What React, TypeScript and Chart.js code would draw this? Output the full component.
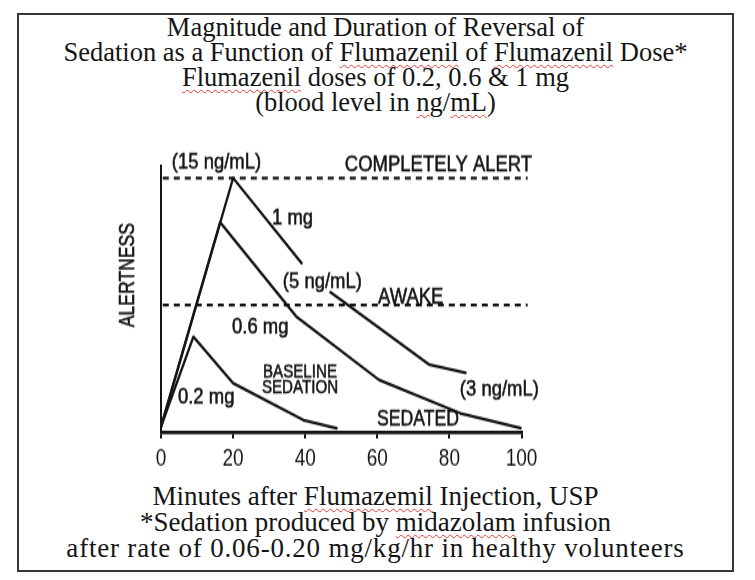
import React, { useEffect, useRef } from "react";
import { Chart, registerables } from "chart.js";

Chart.register(...registerables);

// ---- data ----
const doseNames = ["1 mg", "0.6 mg", "0.2 mg"];
const minutes1mg = [0, 20, 39, 43, 47, 74.5, 84.5];
const alertness1mg = [2, 100, 66.5, null, 55, 26.5, 23.3];
const minutes06mg = [0, 16.4, 37.5, 60.5, 83, 100];
const alertness06mg = [2, 82.6, 45.5, 20.5, 7.4, 1.5];
const minutes02mg = [0, 9, 20, 39.5, 48.7];
const alertness02mg = [2, 37.5, 19.2, 4.7, 1.5];

const levelNames = ["COMPLETELY ALERT", "AWAKE"];
const levelValues = [100, 50];
const levelStart = [0.5, 0.5];
const levelEnd = [101.7, 101.7];

const xTickValues = [0, 20, 40, 60, 80, 100];
const yAxisTitle = "ALERTNESS";

// annotation texts placed in data coordinates (x = left edge, y = middle)
const noteTexts = ["(15 ng/mL)", "COMPLETELY ALERT", "1 mg", "(5 ng/mL)", "AWAKE", "0.6 mg", "BASELINE", "SEDATION", "0.2 mg", "(3 ng/mL)", "SEDATED"];
const noteX = [3.0, 51.0, 30.8, 33.8, 60.2, 19.7, 28.3, 28.0, 4.7, 82.9, 59.9];
const noteY = [106.3, 105.1, 84.3, 59.1, 53.0, 41.3, 23.6, 17.3, 13.8, 16.5, 4.7];
const noteSize = [22, 22, 22, 22, 22, 22, 18, 18, 22, 22, 21];

const ink = "#151515";
const condense = 0.84;
// the printed figure is vertically stretched: canvas is drawn shorter and displayed taller
const CSS_W = 460;
const CSS_H = 340;
const CANVAS_H = 262;
const stretch = CSS_H / CANVAS_H;

const toPoints = (xs: number[], ys: (number | null)[]) => xs.map((x, i) => ({ x, y: ys[i] }));

const notesPlugin = {
  id: "notes",
  afterDraw(chart: any) {
    const { ctx } = chart;
    const xs = chart.scales.x;
    const ys = chart.scales.y;
    ctx.save();
    ctx.fillStyle = ink;
    ctx.strokeStyle = ink;
    ctx.textBaseline = "middle";
    noteTexts.forEach((t, i) => {
      ctx.save();
      ctx.translate(xs.getPixelForValue(noteX[i]), ys.getPixelForValue(noteY[i]));
      ctx.scale(condense, 1 / stretch);
      ctx.font = `${noteSize[i]}px "Liberation Sans", Arial, sans-serif`;
      ctx.textAlign = "left";
      ctx.lineWidth = 0.6;
      ctx.fillText(t, 0, 0);
      ctx.strokeText(t, 0, 0);
      ctx.restore();
    });
    // y axis title, rotated
    ctx.save();
    ctx.translate(xs.getPixelForValue(-9.3), ys.getPixelForValue(61.8));
    ctx.scale(1, 1 / stretch);
    ctx.rotate(-Math.PI / 2);
    ctx.scale(0.8, 1);
    ctx.font = `22px "Liberation Sans", Arial, sans-serif`;
    ctx.textAlign = "center";
    ctx.lineWidth = 0.6;
    ctx.fillText(yAxisTitle, 0, 0);
    ctx.strokeText(yAxisTitle, 0, 0);
    ctx.restore();
    ctx.restore();
  },
};

function Wavy({ children }: { children: React.ReactNode }) {
  return (
    <span
      style={{
        textDecorationLine: "underline",
        textDecorationStyle: "wavy",
        textDecorationColor: "#e03c3c",
        textDecorationThickness: "1px",
        textUnderlineOffset: "3px",
      }}
    >
      {children}
    </span>
  );
}

export default function App() {
  const canvasRef = useRef<HTMLCanvasElement | null>(null);

  useEffect(() => {
    const canvas = canvasRef.current;
    if (!canvas) return;
    const curveSets = [
      toPoints(minutes1mg, alertness1mg),
      toPoints(minutes06mg, alertness06mg),
      toPoints(minutes02mg, alertness02mg),
    ];
    const datasets: any[] = curveSets.map((pts, i) => ({
      label: doseNames[i],
      data: pts,
      borderColor: ink,
      borderWidth: 2.3,
      pointRadius: 0,
      tension: 0,
      spanGaps: false,
      borderCapStyle: "round",
      borderJoinStyle: "round",
    }));
    levelValues.forEach((v, i) => {
      datasets.push({
        label: levelNames[i],
        data: [
          { x: levelStart[i], y: v },
          { x: levelEnd[i], y: v },
        ],
        borderColor: ink,
        borderWidth: 2.3,
        borderDash: [6, 5],
        pointRadius: 0,
        clip: false,
      });
    });

    const chart = new Chart(canvas, {
      type: "line",
      data: { datasets },
      options: {
        animation: false,
        responsive: false,
        devicePixelRatio: 1,
        events: [],
        layout: { padding: { top: 19.5, right: 33.5, left: 0, bottom: 0 } },
        plugins: {
          legend: { display: false },
          tooltip: { enabled: false },
          title: { display: false },
        },
        scales: {
          x: {
            type: "linear",
            min: 0,
            max: 100,
            afterBuildTicks: (s: any) => {
              s.ticks = xTickValues.map((v) => ({ value: v }));
            },
            afterFit: (s: any) => {
              s.height = 37;
            },
            grid: {
              display: true,
              drawOnChartArea: false,
              drawTicks: true,
              tickLength: 5,
              tickWidth: 2,
              tickColor: ink,
              color: ink,
              lineWidth: 2,
            },
            border: { display: true, color: ink, width: 2.8 },
            ticks: {
              color: ink,
              font: { family: '"Liberation Sans", Arial, sans-serif', size: 19 },
              padding: 4.5,
              maxRotation: 0,
              autoSkip: false,
            },
          },
          y: {
            type: "linear",
            min: 0,
            max: 105,
            afterFit: (s: any) => {
              s.width = 66;
            },
            grid: { display: false },
            border: { display: true, color: ink, width: 2 },
            ticks: { display: false },
          },
        },
      } as any,
      plugins: [notesPlugin],
    });
    return () => chart.destroy();
  }, []);

  const serif = '"Liberation Serif", "Times New Roman", serif';

  return (
    <div style={{ position: "absolute", left: 0, top: 0, width: 755, height: 580, background: "#fff", overflow: "hidden" }}>
      <div
        style={{
          position: "absolute",
          left: 17,
          top: 13,
          width: 717,
          height: 559,
          border: "2px solid #363636",
          boxSizing: "border-box",
        }}
      />
      <div
        style={{
          position: "absolute",
          left: 17,
          top: 15,
          width: 717,
          textAlign: "center",
          fontFamily: serif,
          fontSize: 26.5,
          lineHeight: "25px",
          color: "#151515",
        }}
      >
        <div>Magnitude and Duration of Reversal of</div>
        <div>
          Sedation as a Function of <Wavy>Flumazenil</Wavy> of <Wavy>Flumazenil</Wavy> Dose*
        </div>
        <div>
          <Wavy>Flumazenil</Wavy> doses of 0.2, 0.6 &amp; 1 mg
        </div>
        <div>
          (blood level in <Wavy>ng</Wavy>/<Wavy>mL</Wavy>)
        </div>
      </div>
      <canvas
        ref={canvasRef}
        width={CSS_W}
        height={CANVAS_H}
        style={{ position: "absolute", left: 95, top: 140, width: CSS_W, height: CSS_H }}
      />
      <div
        style={{
          position: "absolute",
          left: 17,
          top: 483,
          width: 717,
          textAlign: "center",
          fontFamily: serif,
          fontSize: 27,
          lineHeight: "26px",
          color: "#151515",
        }}
      >
        <div>
          Minutes after <Wavy>Flumazemil</Wavy> Injection, USP
        </div>
        <div>
          *Sedation produced by <Wavy>midazolam</Wavy> infusion
        </div>
        <div style={{ letterSpacing: "0.8px" }}>after rate of 0.06-0.20 mg/kg/hr in healthy volunteers</div>
      </div>
    </div>
  );
}
